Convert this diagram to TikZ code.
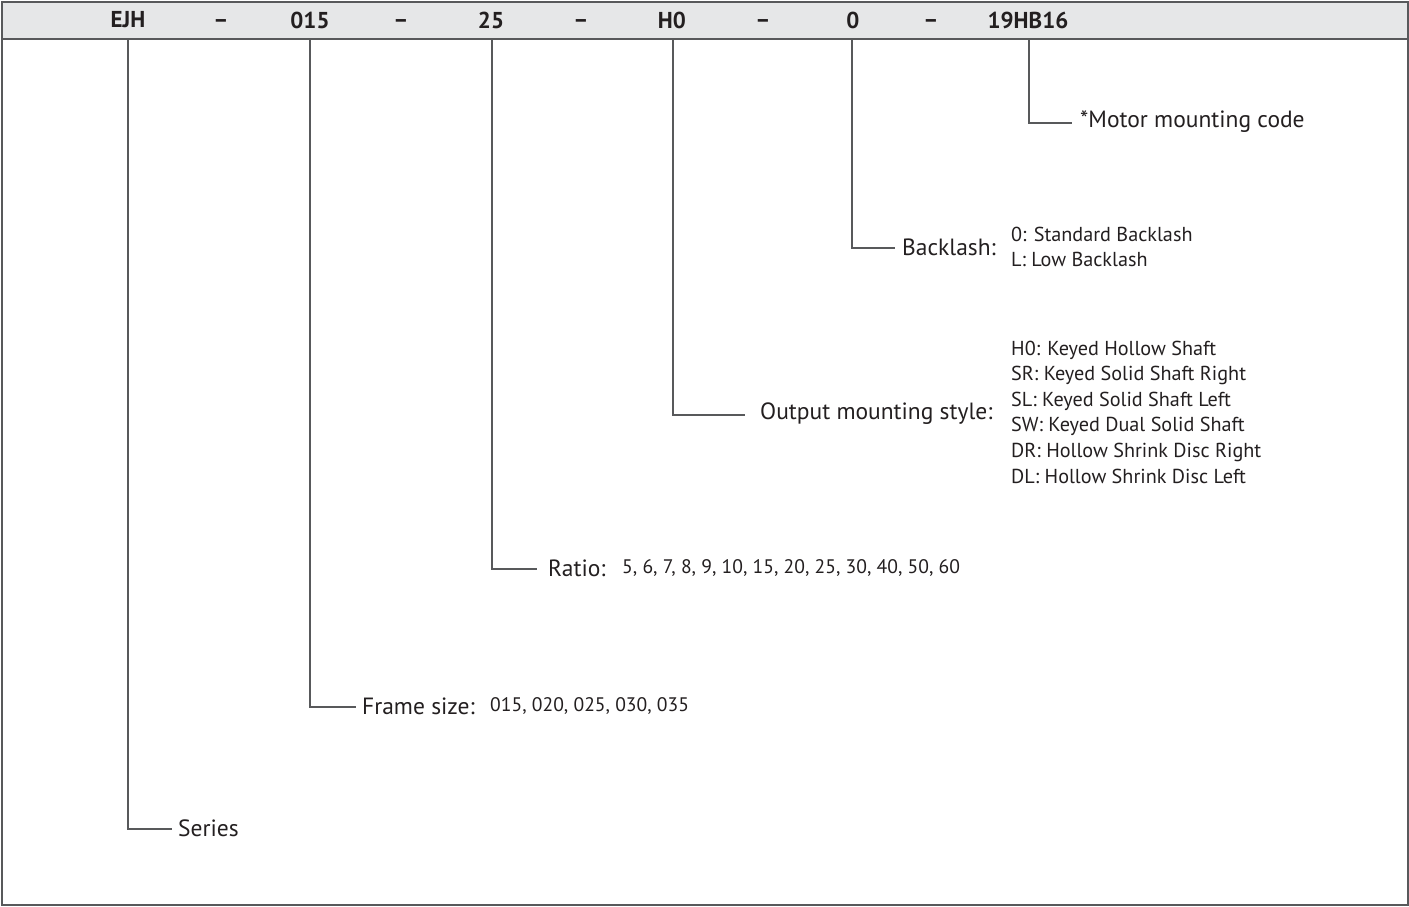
\documentclass[tikz,border=0pt]{standalone}
\usepackage{fontspec}
\setmainfont{PT Sans}
\definecolor{hdr}{HTML}{E6E7E8}
\definecolor{ln}{HTML}{58595B}
\definecolor{txt}{HTML}{231F20}
\begin{document}
\begin{tikzpicture}[x=1pt,y=-1pt,
  frame/.style={draw=ln,line width=1.2pt},
  conn/.style={draw=ln,line width=1.1pt},
  code/.style={font=\fontsize{23}{25}\selectfont\bfseries,text=txt,inner sep=0pt},
  sepmark/.style={font=\fontsize{23}{25}\selectfont\bfseries,text=txt,inner sep=0pt,yshift=-4pt},
  lab/.style={font=\fontsize{23.5}{26}\selectfont,text=txt,inner sep=0pt,anchor=west},
  val/.style={font=\fontsize{20.2}{25.6}\selectfont,text=txt,inner sep=0pt,anchor=west,align=left},
  sval/.style={font=\fontsize{19.6}{22}\selectfont,text=txt,inner sep=0pt,anchor=west}]
\useasboundingbox (0,0) rectangle (1409,906);
\fill[hdr] (2,2) rectangle (1408,39);
\draw[frame] (2,2) rectangle (1408,905);
\draw[frame] (2,39) -- (1408,39);
% header codes
\node[code] (c1) at (128,20) {EJH};
\node[sepmark] (d1) at (221,20) {--};
\node[code] (c2) at (310,20) {015};
\node[sepmark] (d2) at (401,20) {--};
\node[code] (c3) at (491,20) {25};
\node[sepmark] (d3) at (581,20) {--};
\node[code] (c4) at (672,20) {H0};
\node[sepmark] (d4) at (763,20) {--};
\node[code] (c5) at (853,20) {0};
\node[sepmark] (d5) at (931,20) {--};
\node[code] (c6) at (1028,20) {19HB16};
% top coordinates
\coordinate (t1) at (128,39);
\coordinate (t2) at (310,39);
\coordinate (t3) at (492,39);
\coordinate (t4) at (673,39);
\coordinate (t5) at (852,39);
\coordinate (t6) at (1029,39);
% labels
\node[lab] (l1) at (178,828) {Series};
\node[lab] (l2) at (362,706) {Frame size:};
\node[sval] (v2) at (490,706) {015, 020, 025, 030, 035};
\node[lab] (l3) at (548,568) {Ratio:};
\node[sval] (v3) at (622,568) {5, 6, 7, 8, 9, 10, 15, 20, 25, 30, 40, 50, 60};
\node[lab] (l4) at (760,414) {Output mounting style:};
\node[val] (v4) at (1011,412) {H0: Keyed Hollow Shaft\\SR: Keyed Solid Shaft Right\\SL: Keyed Solid Shaft Left\\SW: Keyed Dual Solid Shaft\\DR: Hollow Shrink Disc Right\\DL: Hollow Shrink Disc Left};
\node[lab] (l5) at (902,247) {Backlash:};
\node[val] (v5) at (1011,247) {0: Standard Backlash\\L: Low Backlash};
\node[lab] (l6) at (1080,122) {*Motor mounting code};
% connectors
\draw[conn] (t1) |- ([xshift=-6pt,yshift=-1pt]l1.west);
\draw[conn] (t2) |- ([xshift=-6pt,yshift=-1pt]l2.west);
\draw[conn] (t3) |- ([xshift=-11pt,yshift=-1pt]l3.west);
\draw[conn] (t4) |- ([xshift=-15pt,yshift=-1pt]l4.west);
\draw[conn] (t5) |- ([xshift=-7pt,yshift=-1pt]l5.west);
\draw[conn] (t6) |- ([xshift=-8pt,yshift=-1pt]l6.west);
\end{tikzpicture}
\end{document}
